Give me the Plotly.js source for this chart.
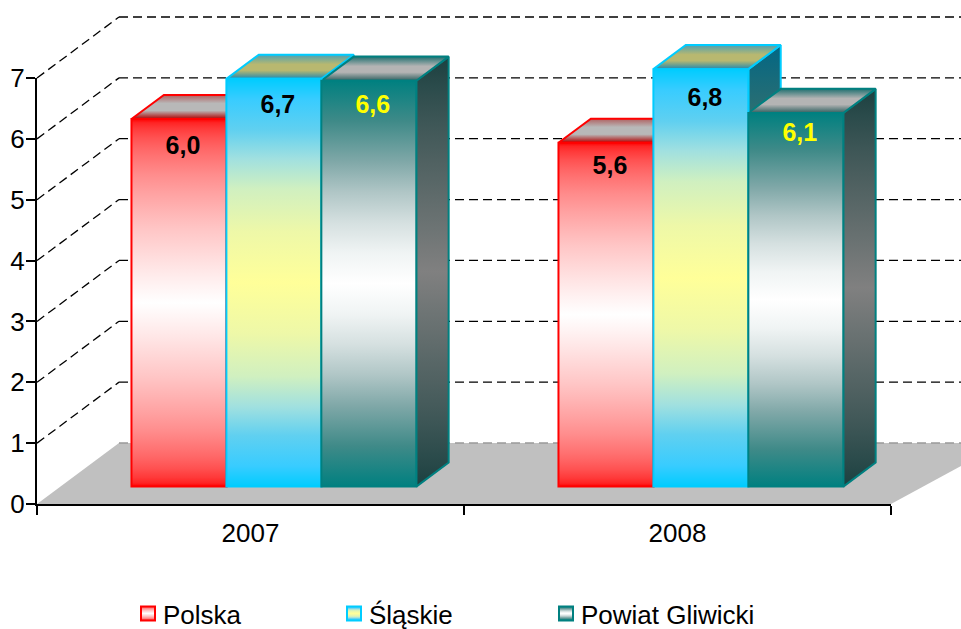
<!DOCTYPE html>
<html><head><meta charset="utf-8">
<script src="https://cdn.plot.ly/plotly-3.0.1.min.js"></script>
<style>html,body{margin:0;padding:0;background:#fff}</style>
</head><body><div id="chart" style="width:961px;height:629px"></div>
<script>
const categories = ['2007', '2008'];
const seriesNames = ['Polska', 'Śląskie', 'Powiat Gliwicki'];
const polska = [6.04, 5.65];
const slaskie = [6.70, 6.86];
const powiat = [6.67, 6.14];
const polskaLabels = ['6,0', '5,6'];
const slaskieLabels = ['6,7', '6,8'];
const powiatLabels = ['6,6', '6,1'];
const polskaLabelPos = [5.57, 5.24];
const slaskieLabelPos = [6.24, 6.36];
const powiatLabelPos = [6.24, 5.78];
const labelColors = ['#000000', '#000000', '#ffff00'];
const lineColors = ['#ff0000', '#00ccff', '#008080'];
const yTicks = [0, 1, 2, 3, 4, 5, 6, 7];

const W = 961, H = 629;
const PX = {left: 37, right: 891, zero: 504, seven: 78};
const unitX = (PX.right - PX.left) / 2, unitY = (PX.zero - PX.seven) / 7;
const depthDX = 82 / unitX, depthDY = 61 / unitY;
const frontD = 0.285, backD = 0.68;
const bargap = 0.333, barW = (1 - bargap) / 3;

const sceneX = [-0.5 - PX.left / unitX, -0.5 + (W - PX.left) / unitX];
const sceneY = [(PX.zero - H) / unitY, PX.zero / unitY];
const px = (x, d) => x + d * depthDX;
const py = (v, d) => v + d * depthDY;

const series = [polska, slaskie, powiat];
const labels = [polskaLabels, slaskieLabels, powiatLabels];
const labelPos = [polskaLabelPos, slaskieLabelPos, powiatLabelPos];
const gradKeys = ['red', 'cyan', 'teal'];

const traces = [];
const xR = sceneX[1] + 0.1;
// floor
traces.push({x: [px(-0.5, 0), px(-0.5, 1), xR, px(1.5, 0), px(-0.5, 0)],
  y: [0, py(0, 1), py(0, 1), 0, 0], mode: 'none', fill: 'toself', fillcolor: '#c0c0c0',
  showlegend: false, hoverinfo: 'skip', xaxis: 'x', yaxis: 'y'});
// gridlines: oblique wall part + back wall part
const gx = [], gy = [];
yTicks.forEach(v => {
  if (v > 0) {
    gx.push(px(-0.5, 0), px(-0.5, 1), null, px(-0.5, 1), xR, null);
    gy.push(v, py(v, 1), null, py(v, 1), py(v, 1), null);
  }
});
traces.push({x: gx, y: gy, mode: 'lines', line: {color: '#000000', width: 1.3, dash: '9px,5px'},
  showlegend: false, hoverinfo: 'skip', xaxis: 'x', yaxis: 'y', connectgaps: false});
traces.push({x: [px(-0.5, 1), xR], y: [py(0, 1), py(0, 1)], mode: 'lines',
  line: {color: '#999999', width: 1.3, dash: '9px,5px'},
  showlegend: false, hoverinfo: 'skip', xaxis: 'x', yaxis: 'y'});
// sides + tops
series.forEach((vals, s) => {
  vals.forEach((v, i) => {
    const l = i + (s - 1.5) * barW, r = l + barW;
    traces.push({x: [px(r, frontD), px(r, backD), px(r, backD), px(r, frontD), px(r, frontD)],
      y: [py(0, frontD), py(0, backD), py(v, backD), py(v, frontD), py(0, frontD)],
      mode: 'lines', fill: 'toself', fillcolor: '#666666', line: {color: lineColors[s], width: 2},
      meta: 'g-' + gradKeys[s] + '-side', showlegend: false, hoverinfo: 'skip', xaxis: 'x', yaxis: 'y'});
    traces.push({x: [px(l, frontD), px(l, backD), px(r, backD), px(r, frontD), px(l, frontD)],
      y: [py(v, frontD), py(v, backD), py(v, backD), py(v, frontD), py(v, frontD)],
      mode: 'lines', fill: 'toself', fillcolor: '#b8b8b8', line: {color: lineColors[s], width: 2},
      meta: 'g-' + gradKeys[s] + '-top', showlegend: false, hoverinfo: 'skip', xaxis: 'x', yaxis: 'y'});
  });
});
// front faces
series.forEach((vals, s) => {
  traces.push({type: 'bar', name: seriesNames[s], x: [0, 1], y: vals,
    marker: {color: lineColors[s], line: {color: lineColors[s], width: 2}},
    meta: 'g-' + gradKeys[s] + '-front', hoverinfo: 'skip', xaxis: 'x2', yaxis: 'y2'});
});
// data labels
const lx = [], ly = [], lt = [], lc = [];
series.forEach((vals, s) => vals.forEach((v, i) => {
  lx.push(px(i + (s - 1) * barW + 4 / unitX, frontD));
  ly.push(py(labelPos[s][i], frontD));
  lt.push(labels[s][i]); lc.push(labelColors[s]);
}));
traces.push({x: lx, y: ly, text: lt, mode: 'text', textposition: 'middle center',
  textfont: {family: 'Liberation Sans', size: 25, weight: 700, color: lc}, cliponaxis: false,
  showlegend: false, hoverinfo: 'skip', xaxis: 'x3', yaxis: 'y3'});

const hidden = {visible: false, fixedrange: true};
const layout = {
  width: W, height: H, autosize: false,
  margin: {l: 0, r: 0, t: 0, b: 0, pad: 0},
  paper_bgcolor: '#ffffff', plot_bgcolor: 'rgba(0,0,0,0)',
  font: {family: 'Liberation Sans', color: '#000000', size: 26},
  barmode: 'group', bargap: bargap, bargroupgap: 0,
  xaxis: Object.assign({}, hidden, {domain: [0, 1], range: sceneX, anchor: 'y'}),
  yaxis: Object.assign({}, hidden, {domain: [0, 1], range: sceneY, anchor: 'x'}),
  xaxis2: Object.assign({}, hidden, {domain: [0, 1], anchor: 'y2',
    range: [sceneX[0] - frontD * depthDX, sceneX[1] - frontD * depthDX]}),
  yaxis2: Object.assign({}, hidden, {domain: [0, 1], anchor: 'x2',
    range: [sceneY[0] - frontD * depthDY, sceneY[1] - frontD * depthDY]}),
  xaxis3: {domain: [PX.left / W, PX.right / W], range: [-0.5, 1.5], anchor: 'y3', fixedrange: true,
    showgrid: false, zeroline: false, showline: true, linecolor: '#000', linewidth: 2,
    tickmode: 'array', tickvals: [0, 1], ticktext: categories, ticks: '', ticklabelstandoff: 5,
    tickfont: {size: 26},
    minor: {tickmode: 'array', tickvals: [-0.5, 0.5, 1.5], ticks: 'outside', ticklen: 9, tickwidth: 2, tickcolor: '#000', showgrid: false}},
  yaxis3: {domain: [1 - PX.zero / H, 1 - PX.seven / H], range: [0, 7], anchor: 'x3', fixedrange: true,
    showgrid: false, zeroline: false, showline: true, linecolor: '#000', linewidth: 2,
    tickmode: 'array', tickvals: yTicks, ticks: 'outside', ticklen: 9, tickwidth: 2, tickcolor: '#000',
    ticklabelstandoff: -4, tickfont: {size: 26}},
  showlegend: true,
  legend: {orientation: 'h', x: 123 / W, xanchor: 'left', y: 0, yanchor: 'bottom',
    entrywidth: 190, entrywidthmode: 'pixels', font: {size: 26}, traceorder: 'normal',
    bgcolor: 'rgba(0,0,0,0)', itemclick: false, itemdoubleclick: false}
};

function hex(c) { return [1, 3, 5].map(i => parseInt(c.substr(i, 2), 16)); }
function ramp(end, mid, exp) {
  const a = hex(end), b = hex(mid), out = [];
  [0, .02, .05, .1, .15, .2, .3, .4, .5, .6, .7, .8, .9, 1].forEach(t => {
    const f = Math.pow(t, exp);
    out.push([t, 'rgb(' + a.map((v, k) => Math.round(v + (b[k] - v) * f)).join(',') + ')']);
  });
  return mirror(out);
}
function mirror(list) {
  const out = [];
  list.forEach(p => {
    out.push([p[0] * 50, p[1]]);
    if (p[0] < 1) out.push([100 - p[0] * 50, p[1]]);
  });
  return out.sort((p, q) => p[0] - q[0]);
}
const stops = {
  'g-red-front': ramp('#ff0000', '#ffffff', 0.5),
  'g-cyan-front': mirror([[0,'#00ccff'],[.1,'#38ccff'],[.25,'#60d0f0'],[.39,'#a0e0e0'],[.54,'#d0f0c0'],[.75,'#eef8a8'],[1,'#ffff99']]),
  'g-teal-front': mirror([[0,'#008080'],[.2,'#3f8a88'],[.4,'#80a8a8'],[.55,'#b0c6c6'],[.7,'#d5e0e0'],[.85,'#f0f4f4'],[1,'#ffffff']]),
  'g-red-side': ramp('#800000', '#808080', 0.9),
  'g-cyan-side': ramp('#006685', '#80804d', 0.9),
  'g-teal-side': ramp('#1a4040', '#808080', 0.9),
  'g-red-top': [[0,'#b06060'],[35,'#b8b8b8'],[65,'#b8b8b8'],[100,'#b00000']],
  'g-cyan-top': [[0,'#50a0b0'],[40,'#b8b870'],[65,'#b8b870'],[100,'#2088b0']],
  'g-teal-top': [[0,'#207070'],[40,'#b4b4b4'],[65,'#b4b4b4'],[100,'#306060']]
};

const legendOffsets = [0, 206, 418];
const translateRe = /translate\(\s*([-\d.]+)[ ,]+([-\d.]+)/;

Plotly.newPlot('chart', traces, layout, {staticPlot: true, displayModeBar: false}).then(gd => {
  const svg = gd.querySelector('.main-svg');
  const NS = 'http://www.w3.org/2000/svg';
  let defs = svg.querySelector('defs');
  if (!defs) { defs = document.createElementNS(NS, 'defs'); svg.insertBefore(defs, svg.firstChild); }
  Object.keys(stops).forEach(id => {
    const g = document.createElementNS(NS, 'linearGradient');
    g.setAttribute('id', id);
    g.setAttribute('x1', '0'); g.setAttribute('y1', '0'); g.setAttribute('x2', '0'); g.setAttribute('y2', '1');
    stops[id].forEach(st => {
      const e = document.createElementNS(NS, 'stop');
      e.setAttribute('offset', st[0] + '%'); e.setAttribute('stop-color', st[1]);
      g.appendChild(e);
    });
    defs.appendChild(g);
  });
  gd.querySelectorAll('.scatterlayer .trace').forEach(el => {
    const d = el.__data__; const tr = d && d[0] && d[0].trace;
    if (tr && tr.meta) {
      const p = el.querySelector('path.js-fill');
      if (p) p.style.fill = 'url(#' + tr.meta + ')';
    }
  });
  gd.querySelectorAll('.barlayer .trace').forEach(el => {
    const d = el.__data__; const tr = d && d[0] && d[0].trace;
    if (tr && tr.meta) el.querySelectorAll('.point path').forEach(p => { p.style.fill = 'url(#' + tr.meta + ')'; });
  });
  const items = gd.querySelectorAll('.legend .traces');
  const first = translateRe.exec(items[0].getAttribute('transform') || '');
  items.forEach((el, i) => {
    el.querySelectorAll('.legendpoints path').forEach(p => {
      p.style.fill = 'url(#g-' + gradKeys[i] + '-front)';
      p.setAttribute('d', 'M7,7H-7V-7H7Z');
      p.setAttribute('transform', 'translate(25,0)');
    });
    const m = translateRe.exec(el.getAttribute('transform') || '');
    if (m && first) el.setAttribute('transform', 'translate(' + (parseFloat(first[1]) + legendOffsets[i]) + ',' + m[2] + ')');
  });
  const leg = gd.querySelector('.legend');
  const lm = translateRe.exec(leg.getAttribute('transform') || '');
  if (lm) leg.setAttribute('transform', 'translate(' + lm[1] + ',' + (parseFloat(lm[2]) + 8) + ')');
  gd.querySelectorAll('.legend .scrollbox').forEach(c => c.removeAttribute('clip-path'));
});
</script></body></html>
